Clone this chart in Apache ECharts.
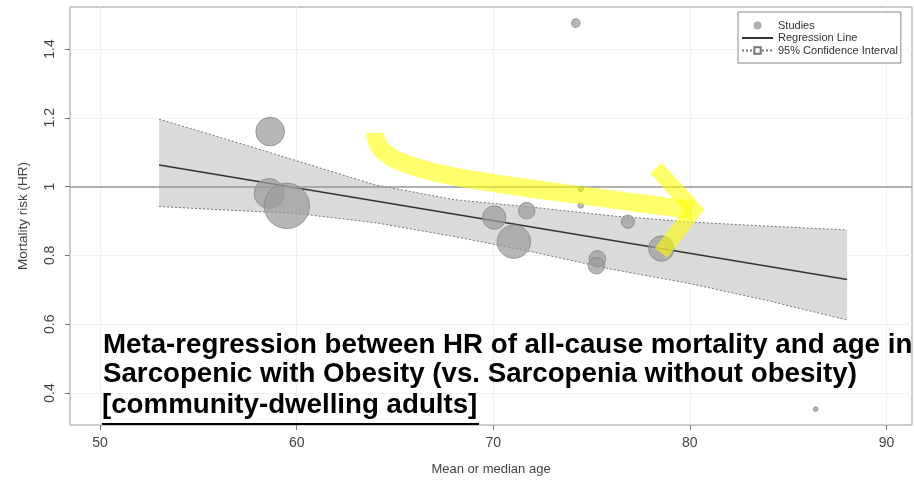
<!DOCTYPE html>
<html>
<head>
<meta charset="utf-8">
<script src="https://cdn.jsdelivr.net/npm/echarts@6/dist/echarts.min.js"></script>
<style>
html,body{margin:0;padding:0;background:#fff;}
#chart{width:914px;height:482px;}
</style>
</head>
<body>
<div id="chart"></div>
<script>
// ---- data ----
const xTickValues = [50, 60, 70, 80, 90];
const yTickValues = [0.4, 0.6, 0.8, 1.0, 1.2, 1.4];
const studyAge = [58.65, 58.6, 59.5, 70.05, 71.7, 71.05, 74.2, 74.45, 74.45, 76.85, 75.3, 75.25, 78.55, 86.4];
const studyHR = [1.16, 0.98, 0.944, 0.91, 0.93, 0.84, 1.475, 0.993, 0.945, 0.898, 0.79, 0.77, 0.82, 0.353];
const studyWeight = [14.3, 15, 22.7, 11.7, 8.3, 16.7, 4.3, 2.7, 2.7, 6.7, 8.3, 8.3, 12.7, 2.3];
const regAge = [53, 88];
const regHR = [1.063, 0.730];
const ciAge = [53, 56, 60, 64, 68, 72, 76, 80, 84, 88];
const ciUpper = [1.196, 1.145, 1.075, 1.005, 0.962, 0.940, 0.915, 0.897, 0.885, 0.874];
const ciLower = [0.942, 0.933, 0.922, 0.895, 0.855, 0.810, 0.760, 0.718, 0.668, 0.612];
const refHR = 1.0;
const xName = 'Mean or median age';
const yName = 'Mortality risk (HR)';
const noteLines = [
  'Meta-regression between HR of all-cause mortality and age in',
  'Sarcopenic with Obesity (vs. Sarcopenia without obesity)',
  '[community-dwelling adults]'
];

const chart = echarts.init(document.getElementById('chart'), null, {renderer: 'canvas'});

const font = 'Liberation Sans, Arial, sans-serif';
const noteFont = 'bold 27.7px Liberation Sans, Arial, sans-serif';

const option = {
  animation: false,
  backgroundColor: '#fff',
  grid: {left: 70, right: 2, top: 7, bottom: 57, show: true, borderColor: '#999', borderWidth: 1, backgroundColor: 'transparent'},
  legend: {
    left: 738, top: 12, orient: 'vertical', itemGap: 1.5, itemWidth: 31, itemHeight: 8,
    padding: [8, 3, 7, 3],
    borderColor: '#888', borderWidth: 1, backgroundColor: '#fff',
    textStyle: {fontFamily: font, fontSize: 11, color: '#333'},
    data: [
      {name: 'Studies', icon: 'circle', itemStyle: {color: '#9b9b9b', borderWidth: 0}},
      {name: 'Regression Line', itemStyle: {opacity: 0, color: 'transparent', borderColor: 'transparent'}},
      {name: '95% Confidence Interval', itemStyle: {borderWidth: 1}}
    ]
  },
  xAxis: {
    type: 'value', min: 48.47, max: 91.3,
    name: xName, nameLocation: 'middle', nameGap: 38,
    nameTextStyle: {fontFamily: font, fontSize: 13, color: '#444'},
    axisLine: {show: false},
    axisTick: {show: true, length: 5, lineStyle: {color: '#777'}, customValues: xTickValues},
    axisLabel: {fontFamily: font, fontSize: 14, color: '#444', margin: 11, customValues: xTickValues},
    splitLine: {show: true, lineStyle: {color: '#f0f0f0'}}
  },
  yAxis: {
    type: 'value', min: 0.307, max: 1.522,
    name: yName, nameLocation: 'middle', nameGap: 40, nameRotate: 90,
    nameTextStyle: {fontFamily: font, fontSize: 13.5, color: '#444'},
    axisLine: {show: false},
    axisTick: {show: true, length: 5, lineStyle: {color: '#777'}, customValues: yTickValues},
    axisLabel: {fontFamily: font, fontSize: 14, color: '#444', rotate: 90, margin: 13, customValues: yTickValues,
      formatter: v => String(Math.round(v * 10) / 10)},
    splitLine: {show: true, lineStyle: {color: '#f0f0f0'}}
  },
  series: [
    {
      name: 'ciBand', type: 'custom', z: 1, silent: true,
      data: ciAge.map((a, i) => [a, ciUpper[i]]),
      renderItem: function (params, api) {
        if (params.dataIndex !== 0) return null;
        const pts = [];
        for (let i = 0; i < ciAge.length; i++) pts.push(api.coord([ciAge[i], ciUpper[i]]));
        for (let i = ciAge.length - 1; i >= 0; i--) pts.push(api.coord([ciAge[i], ciLower[i]]));
        return {type: 'polygon', shape: {points: pts}, style: {fill: '#dadada'}};
      }
    },
    {
      name: '95% Confidence Interval', type: 'line', z: 3,
      data: ciAge.map((a, i) => [a, ciUpper[i]]),
      symbol: 'emptyRect', symbolSize: 6, showSymbol: false,
      itemStyle: {color: '#777'},
      lineStyle: {color: '#777', width: 1, type: [2, 2]}
    },
    {
      name: '95% Confidence Interval', type: 'line', z: 3,
      data: ciAge.map((a, i) => [a, ciLower[i]]),
      symbol: 'emptyRect', symbolSize: 6, showSymbol: false,
      itemStyle: {color: '#777'},
      lineStyle: {color: '#777', width: 1, type: [2, 2]}
    },
    {
      name: 'Regression Line', type: 'line', z: 4,
      data: regAge.map((a, i) => [a, regHR[i]]),
      symbol: 'none',
      itemStyle: {color: '#333'},
      lineStyle: {color: '#333', width: 1.5},
      markLine: {
        silent: true, symbol: 'none', label: {show: false},
        lineStyle: {color: '#999', width: 1.5, type: 'solid'},
        data: [{yAxis: refHR}]
      }
    },
    {
      name: 'Studies', type: 'scatter', z: 5,
      data: studyAge.map((a, i) => [a, studyHR[i], studyWeight[i]]),
      symbolSize: d => d[2] * 2,
      itemStyle: {color: 'rgba(155,155,155,0.9)', borderColor: '#888', borderWidth: 1}
    }
  ],
  graphic: [
    {type: 'bezierCurve', z: 50, silent: true,
      shape: {x1: 375, y1: 133, cpx1: 376, cpy1: 172, cpx2: 450, cpy2: 178, x2: 692, y2: 210},
      style: {fill: 'none', stroke: 'rgba(255,255,0,0.58)', lineWidth: 18, lineCap: 'butt'}},
    {type: 'polyline', z: 51, silent: true,
      shape: {points: [[656, 168], [694, 210], [661, 253]]},
      style: {fill: 'none', stroke: 'rgba(255,255,0,0.58)', lineWidth: 16, lineCap: 'butt', lineJoin: 'miter'}},
    {type: 'text', z: 60, left: 103, top: 331, silent: true,
      style: {text: noteLines[0], font: noteFont, fill: '#000'}},
    {type: 'text', z: 60, left: 103, top: 360, silent: true,
      style: {text: noteLines[1], font: noteFont, fill: '#000'}},
    {type: 'text', z: 60, left: 102, top: 391, silent: true,
      style: {text: noteLines[2], font: noteFont, fill: '#000'}},
    {type: 'line', z: 60, silent: true,
      shape: {x1: 102, y1: 424, x2: 479, y2: 424},
      style: {stroke: '#000', lineWidth: 2}}
  ]
};
chart.setOption(option);
</script>
</body>
</html>
